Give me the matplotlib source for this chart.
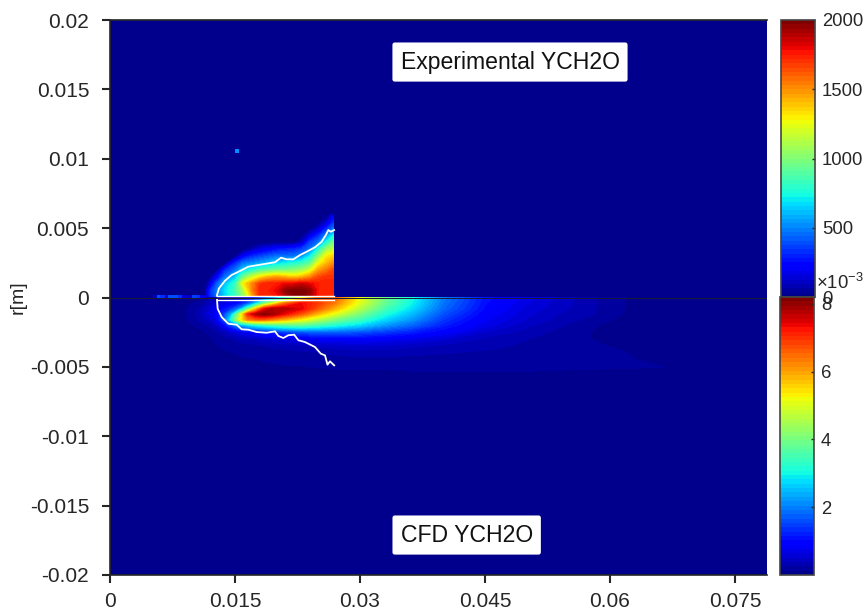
#!/usr/bin/env python3
"""Experimental and CFD YCH2O fields on a shared axes, one colorbar each."""

import numpy as np
import matplotlib
matplotlib.use("Agg")
import matplotlib.pyplot as plt
from matplotlib.cm import ScalarMappable
from matplotlib.colors import ListedColormap, Normalize

plt.rcParams["font.family"] = ["Liberation Sans", "DejaVu Sans"]
plt.rcParams["mathtext.fontset"] = "custom"
plt.rcParams["mathtext.rm"] = "Liberation Sans"
plt.rcParams["mathtext.default"] = "regular"

x_ticks = [0, 0.015, 0.03, 0.045, 0.06, 0.075]
x_tick_labels = ["0", "0.015", "0.03", "0.045", "0.06", "0.075"]
r_ticks = [0.02, 0.015, 0.01, 0.005, 0, -0.005, -0.01, -0.015, -0.02]
r_tick_labels = ["0.02", "0.015", "0.01", "0.005", "0", "-0.005", "-0.01", "-0.015", "-0.02"]

# experimental field, one list per x column, r = 0 .. 0.006
exp_x = [0.0115, 0.012, 0.0128, 0.0138, 0.015, 0.016, 0.017, 0.018, 0.019, 0.02, 0.021,
         0.022, 0.023, 0.024, 0.025, 0.026, 0.0268]
exp_r = [0, 0.0005, 0.001, 0.0015, 0.002, 0.0025, 0.003, 0.0035, 0.004, 0.0045, 0.005, 0.0055, 0.006]
exp_values = [
    [150, 80, 0, 0, 0, 0, 0, 0, 0, 0, 0, 0, 0],
    [300, 300, 150, 0, 0, 0, 0, 0, 0, 0, 0, 0, 0],
    [450, 480, 400, 200, 0, 0, 0, 0, 0, 0, 0, 0, 0],
    [650, 680, 620, 450, 300, 0, 0, 0, 0, 0, 0, 0, 0],
    [800, 850, 800, 620, 450, 300, 0, 0, 0, 0, 0, 0, 0],
    [1000, 1100, 1300, 950, 650, 450, 200, 0, 0, 0, 0, 0, 0],
    [1400, 1500, 1500, 1150, 750, 500, 300, 60, 0, 0, 0, 0, 0],
    [1700, 1750, 1700, 1300, 850, 550, 350, 150, 0, 0, 0, 0, 0],
    [1700, 1750, 1750, 1400, 900, 600, 400, 200, 0, 0, 0, 0, 0],
    [1750, 1800, 1750, 1450, 950, 650, 450, 250, 0, 0, 0, 0, 0],
    [1850, 1950, 1800, 1400, 950, 700, 450, 280, 0, 0, 0, 0, 0],
    [1950, 2000, 1800, 1350, 1000, 750, 450, 300, 0, 0, 0, 0, 0],
    [2000, 2000, 1850, 1400, 1050, 800, 500, 350, 100, 0, 0, 0, 0],
    [1900, 1950, 1800, 1500, 1200, 900, 700, 450, 350, 150, 0, 0, 0],
    [1750, 1750, 1750, 1650, 1450, 1250, 1000, 750, 450, 300, 100, 0, 0],
    [1700, 1750, 1750, 1700, 1550, 1400, 1300, 1050, 750, 500, 300, 100, 0],
    [1650, 1750, 1750, 1700, 1650, 1500, 1350, 1150, 950, 700, 450, 300, 150],
]

# thin low signal along the axis ahead of the flame, and the stray spot
band_x = [0.0052, 0.0056, 0.006, 0.0066, 0.007, 0.0076, 0.0082, 0.0086, 0.0092, 0.0098, 0.0104, 0.0108, 0.0115]
band_r = [0, 0.0002]
band_values = [[120, 380, 340, 120, 400, 380, 340, 130, 120, 360, 340, 180]]
spot_x = [0.01528]
spot_r = [0.01058]
spot_value = [500]

# CFD field in units of 1e-3, one list per x column
cfd_x = [0.008, 0.011, 0.0125, 0.0135, 0.0145, 0.0155, 0.0165, 0.0175, 0.0185, 0.0195, 0.021, 0.023,
         0.025, 0.027, 0.03, 0.033, 0.036, 0.04, 0.045, 0.05, 0.054, 0.058, 0.061, 0.066, 0.07]
cfd_r = [0, -0.0004, -0.0008, -0.0012, -0.0016, -0.002, -0.0025, -0.003, -0.0035, -0.004, -0.0045, -0.005,
         -0.0055, -0.006]
cfd_values = [
    [0, 0, 0, 0, 0, 0, 0, 0, 0, 0, 0, 0, 0, 0],
    [0.1, 0.2, 0.3, 0.35, 0.3, 0.2, 0.1, 0, 0, 0, 0, 0, 0, 0],
    [0.3, 0.5, 0.7, 0.8, 0.6, 0.35, 0.2, 0.15, 0.1, 0, 0, 0, 0, 0],
    [0.3, 0.6, 1, 1.3, 1.4, 0.8, 0.3, 0.2, 0.15, 0.1, 0, 0, 0, 0],
    [0.3, 0.8, 1.3, 2.3, 3, 1.5, 0.5, 0.25, 0.18, 0.12, 0.1, 0, 0, 0],
    [0.4, 1, 2, 4.5, 5, 2.2, 0.7, 0.3, 0.2, 0.15, 0.1, 0, 0, 0],
    [0.6, 1.5, 3.5, 7, 6.3, 2.6, 0.8, 0.35, 0.2, 0.15, 0.12, 0.1, 0, 0],
    [1, 2.5, 5.5, 7.8, 6.5, 3, 0.9, 0.4, 0.22, 0.15, 0.12, 0.1, 0, 0],
    [1.5, 3.8, 7.2, 8.1, 6.5, 3.2, 1.1, 0.5, 0.25, 0.18, 0.14, 0.1, 0, 0],
    [2, 4.8, 7.8, 7.9, 6.2, 3.4, 1.2, 0.5, 0.28, 0.2, 0.15, 0.1, 0, 0],
    [3.2, 6.3, 7.8, 7.3, 5.8, 3.6, 1.4, 0.6, 0.3, 0.2, 0.15, 0.12, 0, 0],
    [5, 7.3, 7.4, 6.6, 5.2, 3.7, 1.6, 0.7, 0.35, 0.22, 0.16, 0.12, 0.05, 0],
    [6.5, 6.9, 6.6, 5.7, 4.6, 3.4, 1.7, 0.8, 0.4, 0.25, 0.18, 0.14, 0.05, 0],
    [6.6, 6.3, 5.8, 5, 4, 3.1, 1.7, 0.85, 0.45, 0.28, 0.2, 0.15, 0.08, 0],
    [5.2, 5, 4.6, 4, 3.4, 2.7, 1.6, 0.85, 0.5, 0.3, 0.22, 0.16, 0.08, 0],
    [3.9, 3.8, 3.5, 3.1, 2.7, 2.2, 1.4, 0.8, 0.48, 0.3, 0.22, 0.16, 0.08, 0],
    [3.1, 3, 2.8, 2.5, 2.2, 1.8, 1.2, 0.7, 0.42, 0.28, 0.22, 0.17, 0.1, 0],
    [2, 1.9, 1.8, 1.6, 1.4, 1.2, 0.9, 0.55, 0.35, 0.26, 0.22, 0.18, 0.1, 0],
    [1.1, 1.05, 1, 0.9, 0.8, 0.7, 0.5, 0.35, 0.28, 0.24, 0.22, 0.18, 0.1, 0],
    [0.7, 0.65, 0.6, 0.55, 0.5, 0.42, 0.32, 0.26, 0.24, 0.22, 0.2, 0.18, 0.1, 0],
    [0.48, 0.45, 0.42, 0.38, 0.33, 0.27, 0.22, 0.2, 0.2, 0.2, 0.2, 0.17, 0.08, 0],
    [0.28, 0.28, 0.27, 0.26, 0.2, 0.15, 0.12, 0.12, 0.16, 0.2, 0.2, 0.17, 0.05, 0],
    [0.15, 0.15, 0.15, 0.14, 0.1, 0.05, 0.03, 0.05, 0.1, 0.16, 0.19, 0.16, 0.03, 0],
    [0, 0, 0, 0, 0, 0, 0, 0, 0, 0, 0.05, 0.14, 0, 0],
    [0, 0, 0, 0, 0, 0, 0, 0, 0, 0, 0, 0, 0, 0],
]

# white flame outline, upper and lower half
upper_x = [0.01284, 0.01284, 0.01308, 0.0138, 0.0146, 0.0156, 0.0166, 0.0178, 0.019, 0.0198, 0.02052, 0.0212,
           0.022, 0.0228, 0.0236, 0.0246, 0.0254, 0.0259, 0.0262, 0.0265, 0.0269]
upper_r = [0.00012, 0.00018, 0.00066, 0.00121, 0.00162, 0.00191, 0.00222, 0.00234, 0.00246, 0.00254, 0.00287, 0.00275,
           0.00275, 0.00306, 0.0033, 0.00362, 0.00402, 0.0045, 0.00486, 0.00474, 0.00486]
lower_x = [0.01284, 0.01292, 0.0134, 0.0142, 0.0152, 0.0158, 0.0166, 0.0176, 0.0188, 0.0198, 0.0202, 0.0208,
           0.0214, 0.0221, 0.0226, 0.0234, 0.0246, 0.0253, 0.0258, 0.0261, 0.0264, 0.0269]
lower_r = [-0.00017, -0.00081, -0.00141, -0.00189, -0.00196, -0.00229, -0.00232, -0.00249, -0.00254, -0.00244, -0.00277,
           -0.00292, -0.00272, -0.00268, -0.00308, -0.00321, -0.00357, -0.00405, -0.00417, -0.00484, -0.0046, -0.00489]
closure_x = [0.01284, 0.0269]
closure_r = [0.00012, -0.00017]

# matlab jet(64) starts a little above the matplotlib one
jet64 = ListedColormap(plt.cm.jet(np.linspace(0.014, 1, 64)))
exp_norm = Normalize(0, 2000)
cfd_norm = Normalize(0, 8.2)
FIG_W, FIG_H = 865, 614
DARK = "#262626"


def px_axes(fig, left, top, right, bottom):
    return fig.add_axes([left / FIG_W, 1 - bottom / FIG_H, (right - left) / FIG_W, (bottom - top) / FIG_H])


def bar(fig, box, norm, ticks, labels):
    cax = px_axes(fig, *box)
    cb = fig.colorbar(ScalarMappable(norm=norm, cmap=jet64), cax=cax)
    cb.set_ticks(ticks, labels=labels)
    cax.tick_params(direction="in", length=2.5, width=1, labelsize=13.3, pad=5, colors=DARK)
    cb.outline.set_edgecolor("#444444")
    cb.outline.set_linewidth(1.2)
    return cb


def main():
    fig = plt.figure(figsize=(FIG_W / 100, FIG_H / 100), dpi=100)
    ax = px_axes(fig, 110, 20, 767, 575)
    ax.set_facecolor(jet64(0))

    ax.contourf(exp_x, exp_r, np.array(exp_values).T, levels=np.linspace(0, 2000, 65), cmap=jet64, norm=exp_norm)
    ax.contourf(cfd_x, cfd_r, np.array(cfd_values).T, levels=np.linspace(0, 8.2, 65), cmap=jet64, norm=cfd_norm)
    ax.pcolormesh(band_x, band_r, band_values, cmap=jet64, norm=exp_norm, shading="flat")
    ax.scatter(spot_x, spot_r, c=spot_value, cmap=jet64, norm=exp_norm, marker="s", s=7, linewidths=0)

    ax.axhline(0, color="#1a1a33", lw=0.7)
    ax.plot(upper_x, upper_r, color="white", lw=1.3)
    ax.plot(lower_x, lower_r, color="white", lw=1.3)
    ax.plot(closure_x, [closure_r[0]] * 2, color="white", lw=1.0)
    ax.plot(closure_x, [closure_r[1]] * 2, color="white", lw=1.0)

    ax.set_xlim(0, 0.07884)
    ax.set_ylim(-0.02, 0.02)
    ax.set_xticks(x_ticks, labels=x_tick_labels)
    ax.set_yticks(r_ticks, labels=r_tick_labels)
    ax.tick_params(length=5.5, width=1.5, labelsize=15, colors=DARK)
    ax.tick_params(axis="x", pad=7)
    ax.tick_params(axis="y", pad=9.5)
    ax.set_ylabel("r[m]", fontsize=14, color=DARK)
    ax.yaxis.set_label_coords((27 - 110) / 657, 0.5)
    ax.spines["right"].set_visible(False)
    for side in ["left", "bottom", "top"]:
        ax.spines[side].set_color(DARK)
        ax.spines[side].set_linewidth(1.2)

    box = dict(facecolor="white", edgecolor="none", boxstyle="round,pad=0.35,rounding_size=0.1")
    ax.text(0.048, 0.01697, "Experimental YCH2O", fontsize=16.6, ha="center", va="center", color="#111111", bbox=box)
    ax.text(0.0428, -0.01712, "CFD YCH2O", fontsize=16.6, ha="center", va="center", color="#111111", bbox=box)

    bar(fig, (781, 20, 815, 297), exp_norm, [0, 500, 1000, 1500, 2000], ["0", "500", "1000", "1500", "2000"])
    bar(fig, (780, 297, 814, 575), cfd_norm, [2, 4, 6, 8], ["2", "4", "6", "8"])
    fig.text(816 / FIG_W, 1 - 283 / FIG_H, r"$\times10^{-3}$", fontsize=13.3, color=DARK, ha="left", va="center")

    fig.savefig("out.png", dpi=100)


if __name__ == "__main__":
    main()
